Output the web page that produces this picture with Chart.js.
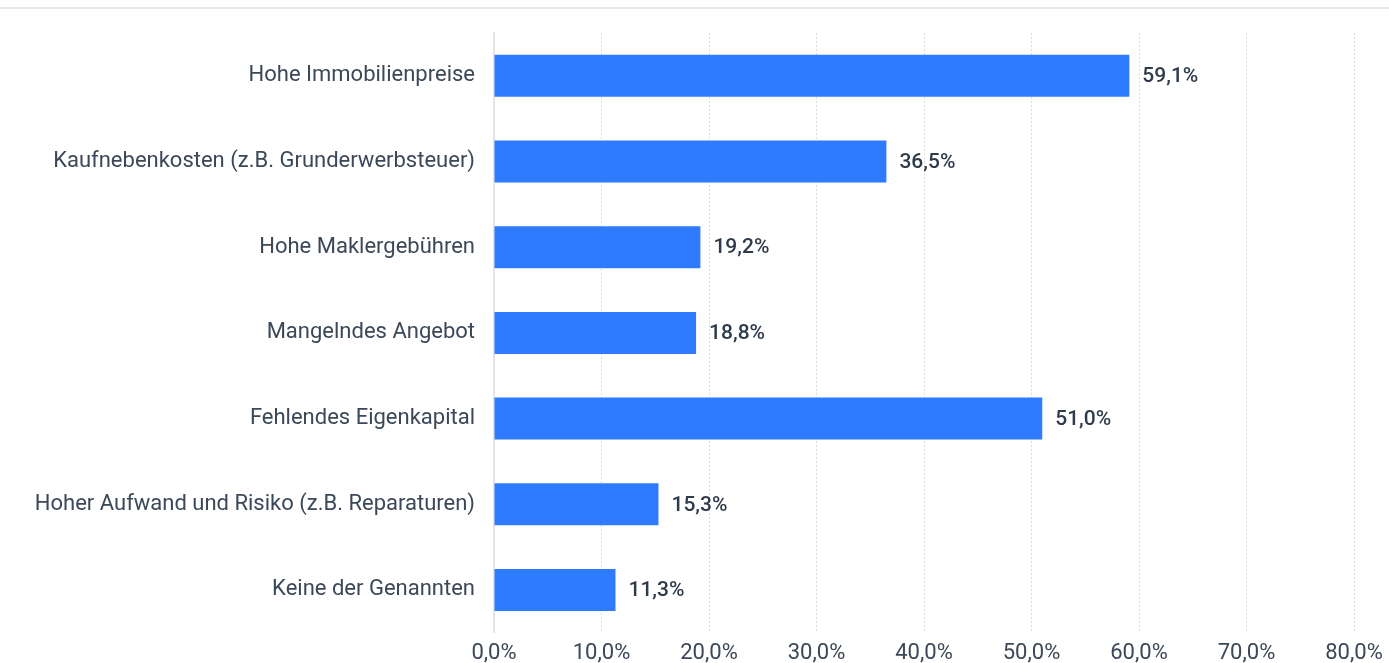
<!DOCTYPE html>
<html>
<head>
<meta charset="utf-8">
<script src="https://cdn.jsdelivr.net/npm/chart.js@4"></script>
<style>
  html, body { margin: 0; padding: 0; background: #fff; overflow: hidden; }
  #wrap { width: 1389px; height: 663px; position: relative; }
</style>
</head>
<body>
<div id="wrap"><canvas id="chart"></canvas></div>
<script>
const categories = [
  "Hohe Immobilienpreise",
  "Kaufnebenkosten (z.B. Grunderwerbsteuer)",
  "Hohe Maklergebühren",
  "Mangelndes Angebot",
  "Fehlendes Eigenkapital",
  "Hoher Aufwand und Risiko (z.B. Reparaturen)",
  "Keine der Genannten"
];
const shares = [59.1, 36.5, 19.2, 18.8, 51.0, 15.3, 11.3];
const xTicks = [0, 10, 20, 30, 40, 50, 60, 70, 80];

const fmt = v => v.toFixed(1).replace(".", ",") + "%";

// grey rule across the top of the page
const topRule = {
  id: "topRule",
  beforeDraw(chart) {
    const ctx = chart.ctx;
    ctx.save();
    ctx.fillStyle = "#e8e8e8";
    ctx.fillRect(0, 7, chart.width, 2);
    ctx.restore();
  }
};

// value labels at the end of each bar
const valueLabels = {
  id: "valueLabels",
  afterDatasetsDraw(chart) {
    const ctx = chart.ctx;
    const meta = chart.getDatasetMeta(0);
    ctx.save();
    ctx.font = "500 21px Roboto";
    ctx.fillStyle = "#2e3b4b";
    ctx.textBaseline = "middle";
    ctx.textAlign = "left";
    meta.data.forEach((bar, i) => {
      ctx.fillText(fmt(shares[i]), bar.x + 13, bar.y + 1);
    });
    ctx.restore();
  }
};

new Chart(document.getElementById("chart").getContext("2d"), {
  type: "bar",
  data: {
    labels: categories,
    datasets: [{
      data: shares,
      backgroundColor: "#2f7bff",
      borderWidth: 0,
      categoryPercentage: 1,
      barPercentage: 0.49
    }]
  },
  options: {
    indexAxis: "y",
    responsive: true,
    maintainAspectRatio: false,
    animation: false,
    layout: { padding: { top: 33, right: 35, bottom: -12, left: 0 } },
    plugins: {
      legend: { display: false },
      tooltip: { enabled: false }
    },
    scales: {
      x: {
        min: 0,
        max: 80,
        afterBuildTicks: axis => { axis.ticks = xTicks.map(v => ({ value: v })); },
        afterFit: axis => {
          axis.paddingLeft = 0;
          axis.paddingRight = 0;
        },
        grid: {
          color: c => c.index === 0 ? "rgba(0,0,0,0)" : "#dcdcdc",
          lineWidth: 1,
          drawTicks: false
        },
        border: { display: false, dash: [2, 2] },
        ticks: {
          padding: 9,
          color: "#3b4858",
          font: { family: "Roboto", size: 22, lineHeight: 1.1 },
          callback: v => fmt(v)
        }
      },
      y: {
        grid: { display: false, drawTicks: false },
        border: { display: true, color: "#e4e4e4", width: 2 },
        afterFit: axis => {
          axis.width = 494;
          axis.paddingTop = 0;
          axis.paddingBottom = 0;
        },
        ticks: {
          padding: 19,
          color: "#3b4858",
          font: { family: "Roboto", size: 22 }
        }
      }
    }
  },
  plugins: [topRule, valueLabels]
});
</script>
</body>
</html>
